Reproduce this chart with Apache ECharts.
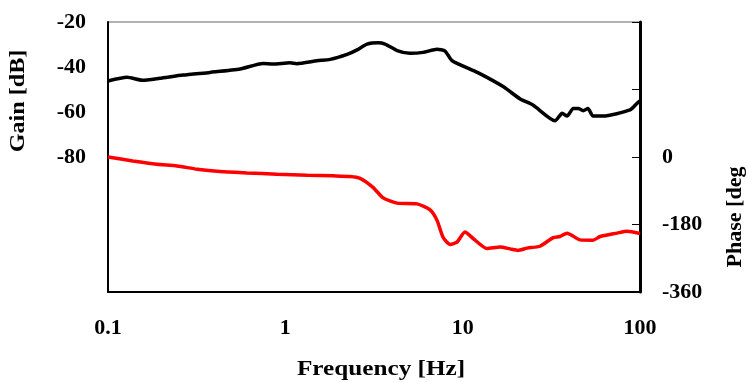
<!DOCTYPE html>
<html>
<head>
<meta charset="utf-8">
<script src="https://cdn.jsdelivr.net/npm/echarts@6/dist/echarts.min.js"></script>
<style>
  html, body { margin: 0; padding: 0; background: #fff; }
  #chart { width: 748px; height: 382px; }
</style>
</head>
<body>
<div id="chart"></div>
<script>
// frequency [Hz] and gain [dB]
const gainFreq = [0.1, 0.128, 0.156, 0.196, 0.265, 0.376, 0.556, 0.748, 0.853, 1.06, 1.16, 1.51, 1.79, 2.23, 2.54, 2.89, 3.33, 3.65, 4.27, 5.05, 5.98, 7.17, 7.96, 8.72, 12.1, 16.9, 21.1, 24.9, 33.2, 36.4, 38.8, 42.0, 44.8, 47.8, 50.9, 54.3, 61.9, 87.9, 96.3, 100];
const gainVals = [-46.2, -44.6, -45.9, -45, -43.6, -42.4, -40.9, -38.4, -38.7, -38.1, -38.5, -37.2, -36.6, -34.4, -32.4, -29.8, -29.2, -29.8, -32.7, -33.9, -33.5, -32.1, -32.9, -37.2, -42.4, -48.7, -54.2, -56.9, -63.9, -60.6, -61.8, -58.4, -58.4, -59.4, -58.4, -61.8, -61.8, -59.1, -56.1, -55.1];

// frequency [Hz] and phase [deg]
const phaseFreq = [0.1, 0.138, 0.189, 0.245, 0.318, 0.429, 0.608, 0.897, 1.33, 1.86, 2.32, 2.64, 3.12, 3.56, 4.27, 5.53, 6.55, 7.17, 7.75, 8.49, 9.29, 10.3, 11.5, 13.7, 16.3, 18.5, 20.5, 23.1, 27.3, 32.4, 35.4, 38.8, 45.9, 54.3, 59.6, 74.3, 84.5, 100];
const phaseVals = [0, -10.6, -19.4, -23.8, -32.6, -38.8, -42.4, -45.9, -48.5, -50.3, -52, -57, -81, -109, -123, -125, -141, -169, -214, -233, -227, -200, -218, -244, -240, -245, -249, -243, -238, -215, -212, -203, -221, -222, -212, -203, -198, -204];

const gainTicksShown = [-20, -40, -60, -80];
const phaseTicksShown = [0, -180, -360];

const font = 'Liberation Serif';
const lbl = { fontFamily: font, fontWeight: 'bold', fontSize: 22, color: '#000' };
const ttl = { fontFamily: font, fontWeight: 'bold', fontSize: 21, fill: '#000', align: 'center', verticalAlign: 'middle' };

const chart = echarts.init(document.getElementById('chart'));
chart.setOption({
  animation: false,
  grid: { left: 108, right: 108, top: 22, bottom: 90, show: true, borderColor: '#666', borderWidth: 1 },
  xAxis: {
    type: 'log', logBase: 10, min: 0.1, max: 100,
    axisLine: { onZero: false, lineStyle: { color: '#000', width: 2 } },
    axisTick: { show: false },
    splitLine: { show: false },
    axisLabel: Object.assign({ margin: 25, formatter: v => String(+v.toPrecision(3)) }, lbl)
  },
  yAxis: [
    {
      type: 'value', position: 'left', min: -140, max: -20, interval: 20,
      axisLine: { show: true, onZero: false, lineStyle: { color: '#000', width: 2 } },
      axisTick: { show: false },
      splitLine: { show: false },
      axisLabel: Object.assign({ margin: 22, formatter: v => gainTicksShown.includes(v) ? String(v) : '' }, lbl)
    },
    {
      type: 'value', position: 'right', min: -360, max: 360, interval: 180,
      axisLine: { show: true, onZero: false, lineStyle: { color: '#000', width: 3 } },
      axisTick: { show: true, inside: true, length: 8, lineStyle: { color: '#000', width: 1 } },
      splitLine: { show: false },
      axisLabel: Object.assign({ margin: 22, formatter: v => phaseTicksShown.includes(v) ? String(v) : '' }, lbl)
    }
  ],
  series: [
    {
      name: 'Gain', type: 'line', yAxisIndex: 0, showSymbol: false, smooth: 0.2,
      lineStyle: { color: '#000', width: 3.5 },
      data: gainFreq.map((f, i) => [f, gainVals[i]])
    },
    {
      name: 'Phase', type: 'line', yAxisIndex: 1, showSymbol: false, smooth: 0.2,
      lineStyle: { color: '#ff0000', width: 3.5 },
      data: phaseFreq.map((f, i) => [f, phaseVals[i]])
    }
  ],
  graphic: [
    { type: 'text', x: 19, y: 101, rotation: Math.PI / 2, scaleX: 1.15,
      style: Object.assign({ text: 'Gain [dB]' }, ttl) },
    { type: 'text', x: 381, y: 370, scaleX: 1.2,
      style: Object.assign({ text: 'Frequency [Hz]' }, ttl) },
    { type: 'text', x: 736, y: 217, rotation: Math.PI / 2, scaleX: 1.05,
      style: Object.assign({ text: 'Phase [deg' }, ttl) }
  ]
});
</script>
</body>
</html>
